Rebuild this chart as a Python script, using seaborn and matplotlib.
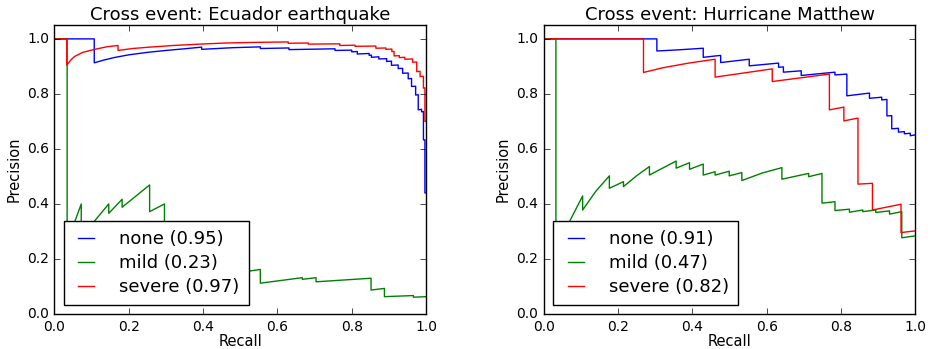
import matplotlib
matplotlib.use("Agg")
import matplotlib.pyplot as plt
import pandas as pd
import seaborn as sns

# ---------------- data ----------------
titles = ["Cross event: Ecuador earthquake", "Cross event: Hurricane Matthew"]
classes = ["none", "mild", "severe"]
ap_ecuador = [0.95, 0.23, 0.97]
ap_matthew = [0.91, 0.47, 0.82]
ticks = [0.0, 0.2, 0.4, 0.6, 0.8, 1.0]
tick_labels = ["0.0", "0.2", "0.4", "0.6", "0.8", "1.0"]

# Ecuador earthquake
ecu_none_recall = [0.0, 0.107, 0.107, 0.13, 0.16, 0.2, 0.25, 0.3, 0.35, 0.396, 0.396, 0.48, 0.554, 0.554,
                   0.631, 0.631, 0.755, 0.755, 0.80, 0.80, 0.815, 0.815, 0.847, 0.847, 0.853, 0.853,
                   0.873, 0.873, 0.894, 0.894, 0.907, 0.907, 0.925, 0.925, 0.937, 0.937, 0.952, 0.952,
                   0.961, 0.961, 0.972, 0.972, 0.979, 0.979, 0.988, 0.988, 0.993, 0.993, 0.997, 0.997, 1.0]
ecu_none_precision = [1.0, 1.0, 0.913, 0.922, 0.932, 0.942, 0.951, 0.958, 0.964, 0.970, 0.962, 0.968, 0.971, 0.965,
                      0.967, 0.961, 0.964, 0.958, 0.959, 0.953, 0.954, 0.945, 0.947, 0.940, 0.941, 0.933,
                      0.935, 0.927, 0.928, 0.918, 0.919, 0.904, 0.905, 0.892, 0.893, 0.875, 0.876, 0.855,
                      0.856, 0.827, 0.828, 0.796, 0.797, 0.742, 0.744, 0.735, 0.736, 0.633, 0.633, 0.44, 0.44]

ecu_mild_recall = [0.0, 0.034, 0.034, 0.072, 0.072, 0.146, 0.146, 0.182, 0.182, 0.256, 0.256, 0.296, 0.296,
                   0.35, 0.35, 0.42, 0.42, 0.47, 0.47, 0.554, 0.554, 0.667, 0.667, 0.704, 0.704,
                   0.852, 0.852, 0.888, 0.888, 0.966, 0.966, 1.0]
ecu_mild_precision = [1.0, 1.0, 0.26, 0.40, 0.28, 0.40, 0.366, 0.417, 0.388, 0.469, 0.372, 0.40, 0.30,
                      0.33, 0.25, 0.28, 0.20, 0.22, 0.145, 0.162, 0.112, 0.132, 0.126, 0.132, 0.117,
                      0.130, 0.087, 0.093, 0.063, 0.067, 0.061, 0.063]

ecu_severe_recall = [0.0, 0.033, 0.033, 0.045, 0.054, 0.076, 0.108, 0.14, 0.171, 0.171, 0.21, 0.256, 0.32,
                     0.391, 0.46, 0.526, 0.629, 0.629, 0.683, 0.683, 0.768, 0.768, 0.809, 0.809, 0.865,
                     0.865, 0.892, 0.892, 0.908, 0.908, 0.914, 0.914, 0.928, 0.928, 0.943, 0.943, 0.964,
                     0.964, 0.975, 0.975, 0.984, 0.984, 0.993, 0.993, 0.997, 0.997, 1.0]
ecu_severe_precision = [1.0, 1.0, 0.905, 0.925, 0.936, 0.951, 0.962, 0.971, 0.976, 0.958, 0.965, 0.970, 0.976,
                        0.981, 0.985, 0.987, 0.989, 0.984, 0.985, 0.981, 0.982, 0.976, 0.977, 0.973, 0.974,
                        0.966, 0.967, 0.962, 0.963, 0.954, 0.954, 0.938, 0.939, 0.932, 0.933, 0.926, 0.927,
                        0.915, 0.916, 0.881, 0.882, 0.863, 0.864, 0.821, 0.822, 0.70, 0.70]

# Hurricane Matthew
mat_none_recall = [0.0, 0.304, 0.304, 0.36, 0.429, 0.429, 0.476, 0.476, 0.553, 0.553, 0.632, 0.632, 0.645,
                   0.645, 0.693, 0.693, 0.784, 0.784, 0.816, 0.816, 0.877, 0.877, 0.910, 0.910, 0.924,
                   0.924, 0.937, 0.937, 0.955, 0.955, 0.971, 0.971, 0.987, 0.987, 1.0]
mat_none_precision = [1.0, 1.0, 0.956, 0.960, 0.966, 0.933, 0.940, 0.914, 0.926, 0.902, 0.912, 0.897, 0.898,
                      0.879, 0.884, 0.867, 0.879, 0.869, 0.872, 0.793, 0.803, 0.784, 0.788, 0.778, 0.780,
                      0.720, 0.721, 0.673, 0.675, 0.661, 0.663, 0.655, 0.657, 0.648, 0.651]

mat_mild_recall = [0.0, 0.032, 0.032, 0.104, 0.104, 0.14, 0.176, 0.176, 0.214, 0.214, 0.25, 0.284, 0.284,
                   0.356, 0.356, 0.392, 0.392, 0.429, 0.429, 0.461, 0.461, 0.499, 0.499, 0.533, 0.533,
                   0.587, 0.641, 0.641, 0.713, 0.713, 0.749, 0.749, 0.784, 0.784, 0.823, 0.823, 0.859,
                   0.859, 0.894, 0.894, 0.931, 0.931, 0.964, 0.964, 1.0]
mat_mild_precision = [1.0, 1.0, 0.24, 0.429, 0.378, 0.447, 0.502, 0.457, 0.481, 0.463, 0.503, 0.536, 0.505,
                      0.556, 0.530, 0.550, 0.526, 0.545, 0.505, 0.517, 0.505, 0.519, 0.502, 0.514, 0.485,
                      0.512, 0.532, 0.490, 0.511, 0.499, 0.511, 0.403, 0.408, 0.376, 0.381, 0.370, 0.378,
                      0.372, 0.378, 0.369, 0.375, 0.363, 0.372, 0.277, 0.284]

mat_severe_recall = [0.0, 0.268, 0.268, 0.32, 0.39, 0.461, 0.461, 0.615, 0.615, 0.769, 0.769, 0.808, 0.808,
                     0.846, 0.846, 0.885, 0.885, 0.962, 0.962, 1.0]
mat_severe_precision = [1.0, 1.0, 0.878, 0.895, 0.912, 0.926, 0.861, 0.891, 0.845, 0.872, 0.742, 0.752, 0.702,
                        0.712, 0.472, 0.475, 0.378, 0.399, 0.296, 0.302]

# ---------------- style ----------------
plt.style.use("classic")
plt.rcParams["font.family"] = ["DejaVu Sans"]
colors = ["b", "g", "r"]

fig = plt.figure(figsize=(9.3, 3.49), dpi=100, facecolor="white")
ax1 = fig.add_axes([0.0586, 0.1003, 0.3995, 0.8277])
ax2 = fig.add_axes([0.585, 0.1003, 0.399, 0.8277])

panels = [
    (ax1, titles[0], ap_ecuador,
     [(ecu_none_recall, ecu_none_precision), (ecu_mild_recall, ecu_mild_precision),
      (ecu_severe_recall, ecu_severe_precision)]),
    (ax2, titles[1], ap_matthew,
     [(mat_none_recall, mat_none_precision), (mat_mild_recall, mat_mild_precision),
      (mat_severe_recall, mat_severe_precision)]),
]

for ax, title, aps, curves in panels:
    ax.set_facecolor("white")
    for cls, ap, (rec, prec), col in zip(classes, aps, curves, colors):
        df = pd.DataFrame({"Recall": rec, "Precision": prec})
        sns.lineplot(data=df, x="Recall", y="Precision", sort=False, estimator=None,
                     color=col, linewidth=1.0, label=f"{cls} ({ap:.2f})", ax=ax)
    ax.set_xlim(0, 1)
    ax.set_ylim(0, 1.05)
    ax.set_xticks(ticks)
    ax.set_xticklabels(tick_labels)
    ax.set_yticks(ticks)
    ax.set_yticklabels(tick_labels)
    ax.tick_params(labelsize=10, direction="in", top=True, right=True, length=4)
    ax.tick_params(axis="x", pad=4)
    ax.set_xlabel("Recall", fontsize=10.5, labelpad=0)
    ax.set_ylabel("Precision", fontsize=10.5, labelpad=4)
    ax.set_title(title, fontsize=13, pad=4)
    ax.legend(loc="lower left", fontsize=13, handlelength=1.5, handletextpad=1.1,
              labelspacing=0.32, borderpad=0.5, borderaxespad=0.5, frameon=True,
              fancybox=False)

fig.savefig("out.png", dpi=100, facecolor="white")
